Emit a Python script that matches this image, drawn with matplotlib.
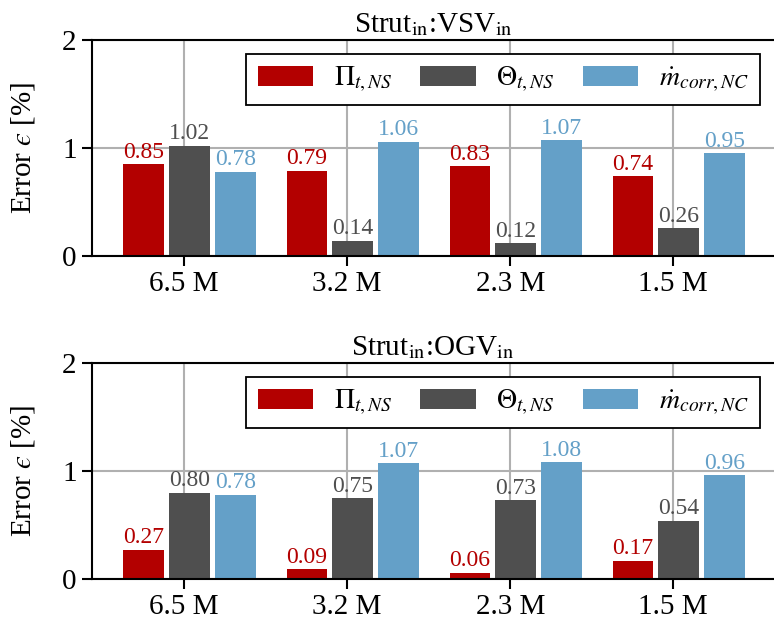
import matplotlib
matplotlib.use("Agg")
import matplotlib.pyplot as plt
import numpy as np

plt.rcParams["font.family"] = ["Liberation Serif", "DejaVu Serif"]
plt.rcParams["mathtext.fontset"] = "stix"

meshes = ["6.5 M", "3.2 M", "2.3 M", "1.5 M"]
series_labels = [r"$\Pi_{t,NS}$", r"$\Theta_{t,NS}$", r"$\dot{m}_{corr,NC}$"]
colors = ["#b30000", "#4f4f4f", "#64a0c8"]

vsv_pi = [0.85, 0.79, 0.83, 0.74]
vsv_theta = [1.02, 0.14, 0.12, 0.26]
vsv_mdot = [0.78, 1.06, 1.07, 0.95]

ogv_pi = [0.27, 0.09, 0.06, 0.17]
ogv_theta = [0.80, 0.75, 0.73, 0.54]
ogv_mdot = [0.78, 1.07, 1.08, 0.96]

panels = [
    (r"Strut$_{\mathrm{in}}$:VSV$_{\mathrm{in}}$", [vsv_pi, vsv_theta, vsv_mdot]),
    (r"Strut$_{\mathrm{in}}$:OGV$_{\mathrm{in}}$", [ogv_pi, ogv_theta, ogv_mdot]),
]

fig = plt.figure(figsize=(7.74, 6.22), dpi=100)
axes_rects = [
    [92 / 774, 1 - 256 / 622, 1 - 92 / 774, 216 / 622],
    [92 / 774, 1 - 579 / 622, 1 - 92 / 774, 216 / 622],
]

x = np.arange(len(meshes))
width = 0.25
step = 0.28
shift = 0.033

for rect, (title, series) in zip(axes_rects, panels):
    ax = fig.add_axes(rect)
    ax.set_axisbelow(True)
    ax.grid(True, color="#b0b0b0", linewidth=1.5)
    for j, (vals, col, lab) in enumerate(zip(series, colors, series_labels)):
        pos = x + shift + (j - 1) * step
        bars = ax.bar(pos, vals, width=width, color=col, label=lab, zorder=2)
        for b, v in zip(bars, vals):
            ax.annotate(f"{v:.2f}", (b.get_x() + b.get_width() / 2, v),
                        xytext=(0, 1.0), textcoords="offset points",
                        ha="center", va="bottom", color=col, fontsize=17)
    ax.set_xlim(-0.565, 3.618)
    ax.set_ylim(0, 2)
    ax.set_xticks(x)
    ax.set_xticklabels(meshes, fontsize=21)
    ax.set_yticks([0, 1, 2])
    ax.tick_params(axis="y", labelsize=21, direction="out", length=7, width=1.5, pad=4)
    ax.tick_params(axis="x", direction="out", length=7, width=1.5, pad=4)
    for s in ["top", "left", "bottom"]:
        ax.spines[s].set_linewidth(1.5)
        ax.spines[s].set_color("black")
    ax.spines["right"].set_visible(False)
    ax.set_ylabel("Error $\u03f5$ [%]", fontsize=21, labelpad=18)
    ax.set_title(title, fontsize=21, pad=6)
    leg = ax.legend(loc="upper right", ncol=3, fontsize=20, frameon=True,
                    fancybox=False, edgecolor="black", framealpha=1,
                    handlelength=2.0, handleheight=0.75, columnspacing=1.0,
                    handletextpad=0.75, borderaxespad=0.5, borderpad=0.4)
    leg.get_frame().set_linewidth(1.3)

fig.savefig("out.png", dpi=100)
